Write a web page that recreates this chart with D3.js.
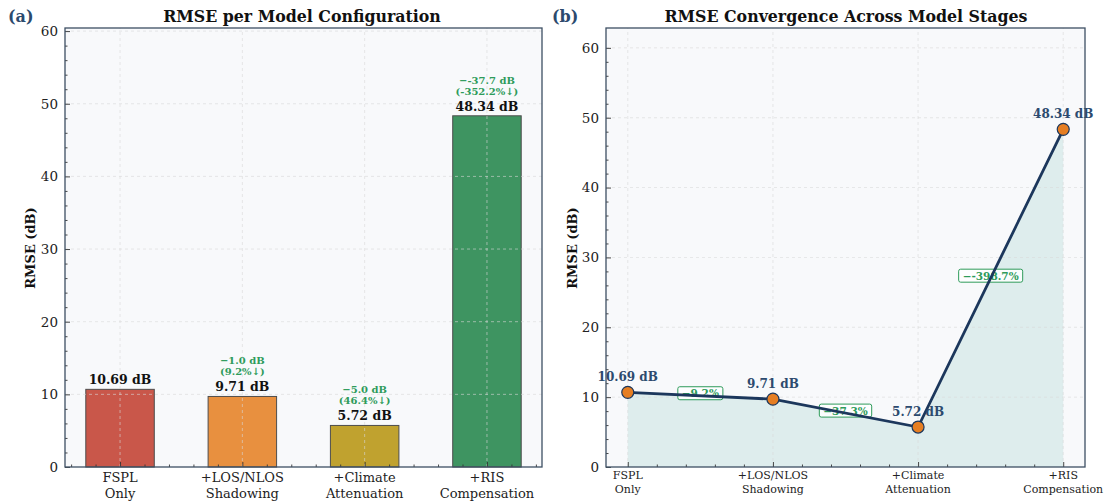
<!DOCTYPE html>
<html>
<head>
<meta charset="utf-8">
<script src="https://cdn.jsdelivr.net/npm/d3@7/dist/d3.min.js"></script>
<style>
  html, body { margin: 0; padding: 0; background: #ffffff; }
  svg { display: block; font-family: "DejaVu Serif", serif; }
</style>
</head>
<body>
<svg id="fig" width="1107" height="501"></svg>
<script>
// ---- data ----
const stageTop = ["FSPL", "+LOS/NLOS", "+Climate", "+RIS"];
const stageBottom = ["Only", "Shadowing", "Attenuation", "Compensation"];
const rmse = [10.69, 9.71, 5.72, 48.34];
const barColors = ["#c9574a", "#e8903f", "#c0a22f", "#3e9461"];
const deltaDb = [null, "\u22121.0 dB", "\u22125.0 dB", "\u2212-37.7 dB"];
const deltaPct = [null, "(9.2%\u2193)", "(46.4%\u2193)", "(-352.2%\u2193)"];
const stepPct = ["\u22129.2%", "\u221237.3%", "\u2212-398.7%"];
const yTicks = [0, 10, 20, 30, 40, 50, 60];
const yMinor = d3.range(0, 62, 2);

const NAVY = "#2c4a6e";
const LINE = "#1c375c";
const GREEN = "#2e9b5a";
const SPINE = "#3d4f63";
const GRID = "#d9d9d9";
const AXBG = "#f8f9fb";

const svg = d3.select("#fig");
const idx = d3.range(rmse.length);
const xMinorVals = (lo, hi) => d3.range(Math.ceil(lo * 5), Math.floor(hi * 5) + 1).map(v => v / 5).filter(v => Math.abs(v - Math.round(v)) > 1e-6);

function frame(g, x, y, w, h) {
  g.append("rect").attr("x", x).attr("y", y).attr("width", w).attr("height", h).attr("fill", AXBG);
}

function drawGrid(g, xs, ys, xv, yv) {
  const [x0, x1] = xs.range(), [y0, y1] = ys.range();
  g.append("g").selectAll("line.gx").data(xv).join("line")
    .attr("x1", d => xs(d)).attr("x2", d => xs(d)).attr("y1", y0).attr("y2", y1)
    .attr("stroke", GRID).attr("stroke-width", 0.8).attr("stroke-dasharray", "3,3").attr("opacity", 0.75);
  g.append("g").selectAll("line.gy").data(yv.filter(v => v > 0)).join("line")
    .attr("x1", x0).attr("x2", x1).attr("y1", d => ys(d)).attr("y2", d => ys(d))
    .attr("stroke", GRID).attr("stroke-width", 0.8).attr("stroke-dasharray", "3,3").attr("opacity", 0.75);
}

function drawAxes(g, xs, ys, opts) {
  const [x0, x1] = xs.range(), [y0, y1] = ys.range();
  // y axis (ticks point inward)
  const ya = g.append("g").attr("transform", `translate(${x0},0)`)
    .call(d3.axisLeft(ys).tickValues(yTicks).tickSize(-5).tickPadding(7).tickFormat(d3.format("d")));
  g.append("g").attr("transform", `translate(${x0},0)`)
    .call(d3.axisLeft(ys).tickValues(yMinor.filter(v => v % 10 !== 0 && v <= ys.domain()[1])).tickSize(-2.5).tickFormat(""));
  // x axis
  g.append("g").attr("transform", `translate(0,${y0})`)
    .call(d3.axisBottom(xs).tickValues(idx).tickSize(-5).tickPadding(opts.xPad).tickFormat(""));
  g.append("g").attr("transform", `translate(0,${y0})`)
    .call(d3.axisBottom(xs).tickValues(xMinorVals(xs.domain()[0], xs.domain()[1])).tickSize(-2.5).tickFormat(""));
  g.selectAll(".domain").remove();
  g.selectAll(".tick line").attr("stroke", "#333").attr("stroke-width", 0.9);
  ya.selectAll("text").attr("font-size", 13.5).attr("fill", "#222").attr("font-family", "DejaVu Serif");
  // two-line category labels
  const lab = g.append("g").attr("font-size", opts.xFont).attr("fill", "#222").attr("text-anchor", "middle");
  idx.forEach(i => {
    const t = lab.append("text").attr("x", xs(i)).attr("y", y0 + opts.xPad + opts.xFont * 0.85);
    t.append("tspan").attr("x", xs(i)).text(stageTop[i]);
    t.append("tspan").attr("x", xs(i)).attr("dy", opts.xFont * 1.22).text(stageBottom[i]);
  });
  // spines
  g.append("rect").attr("x", x0).attr("y", y1).attr("width", x1 - x0).attr("height", y0 - y1)
    .attr("fill", "none").attr("stroke", SPINE).attr("stroke-width", 1.3);
}

function titles(label, lx, title, tx, ylx, ycy) {
  svg.append("text").attr("x", lx).attr("y", 22).attr("font-size", 16).attr("font-weight", "bold")
    .attr("fill", NAVY).text(label);
  svg.append("text").attr("x", tx).attr("y", 22).attr("font-size", 15.8).attr("font-weight", "bold")
    .attr("text-anchor", "middle").attr("fill", "#111").text(title);
  svg.append("text").attr("transform", `translate(${ylx},${ycy}) rotate(-90)`)
    .attr("font-size", 13).attr("font-weight", "bold").attr("text-anchor", "middle").attr("fill", "#111")
    .text("RMSE (dB)");
}

// ---- (a) bar chart ----
{
  const xs = d3.scaleLinear().domain([-0.45, 3.45]).range([65, 542]);
  const ys = d3.scaleLinear().domain([0, d3.max(rmse) * 1.25]).range([467, 28]);
  const g = svg.append("g");
  frame(g, 65, 28, 542 - 65, 467 - 28);
  const bw = (xs(0.56) - xs(0));
  g.append("g").selectAll("rect").data(rmse).join("rect")
    .attr("x", (d, i) => xs(i) - bw / 2).attr("width", bw)
    .attr("y", d => ys(d)).attr("height", d => ys(0) - ys(d))
    .attr("fill", (d, i) => barColors[i]).attr("stroke", "#4d4d4d").attr("stroke-width", 1);
  drawGrid(g, xs, ys, idx, yTicks);
  const ann = g.append("g").attr("text-anchor", "middle").attr("font-weight", "bold");
  rmse.forEach((v, i) => {
    const top = ys(v);
    ann.append("text").attr("x", xs(i)).attr("y", top - 5).attr("font-size", 12.5).attr("fill", "#111")
      .text(v.toFixed(2) + " dB");
    if (deltaDb[i]) {
      ann.append("text").attr("x", xs(i)).attr("y", top - 21).attr("font-size", 10).attr("fill", GREEN).text(deltaPct[i]);
      ann.append("text").attr("x", xs(i)).attr("y", top - 32).attr("font-size", 10).attr("fill", GREEN).text(deltaDb[i]);
    }
  });
  drawAxes(g, xs, ys, { xPad: 4, xFont: 13 });
  titles("(a)", 8, "RMSE per Model Configuration", 302, 35, 248);
}

// ---- (b) line chart ----
{
  const xs = d3.scaleLinear().domain([-0.15, 3.15]).range([606, 1085]);
  const ys = d3.scaleLinear().domain([0, d3.max(rmse) * 1.3]).range([467, 28]);
  const g = svg.append("g");
  frame(g, 606, 28, 1085 - 606, 467 - 28);
  const area = d3.area().x((d, i) => xs(i)).y0(ys(0)).y1(d => ys(d));
  g.append("path").datum(rmse).attr("d", area).attr("fill", "#5fb0ad").attr("fill-opacity", 0.17);
  drawGrid(g, xs, ys, idx, yTicks);
  // step change boxes sit beneath the line
  const boxes = g.append("g");
  stepPct.forEach((s, i) => {
    const cx = xs(i + 0.5), cy = ys((rmse[i] + rmse[i + 1]) / 2) - 2.5;
    const t = boxes.append("text").attr("x", cx).attr("y", cy + 4).attr("text-anchor", "middle")
      .attr("font-size", 10.5).attr("font-weight", "bold").attr("fill", GREEN).text(s);
    const bb = t.node().getBBox();
    boxes.insert("rect", "text").attr("x", bb.x - 4).attr("y", cy - 6.5).attr("width", bb.width + 8).attr("height", 13)
      .attr("rx", 2).attr("fill", "#ffffff").attr("fill-opacity", 0.85).attr("stroke", GREEN).attr("stroke-width", 1);
  });
  const line = d3.line().x((d, i) => xs(i)).y(d => ys(d));
  g.append("path").datum(rmse).attr("d", line).attr("fill", "none").attr("stroke", LINE).attr("stroke-width", 2.8);
  g.append("g").selectAll("circle").data(rmse).join("circle")
    .attr("cx", (d, i) => xs(i)).attr("cy", d => ys(d)).attr("r", 6)
    .attr("fill", "#e67e22").attr("stroke", LINE).attr("stroke-width", 1.2);
  g.append("g").attr("text-anchor", "middle").attr("font-weight", "bold").attr("font-size", 12).attr("fill", NAVY)
    .selectAll("text").data(rmse).join("text")
    .attr("x", (d, i) => xs(i)).attr("y", d => ys(d) - 11).text(d => d.toFixed(2) + " dB");
  drawAxes(g, xs, ys, { xPad: 3, xFont: 11 });
  titles("(b)", 552, "RMSE Convergence Across Model Stages", 846, 577, 248);
}
</script>
</body>
</html>
